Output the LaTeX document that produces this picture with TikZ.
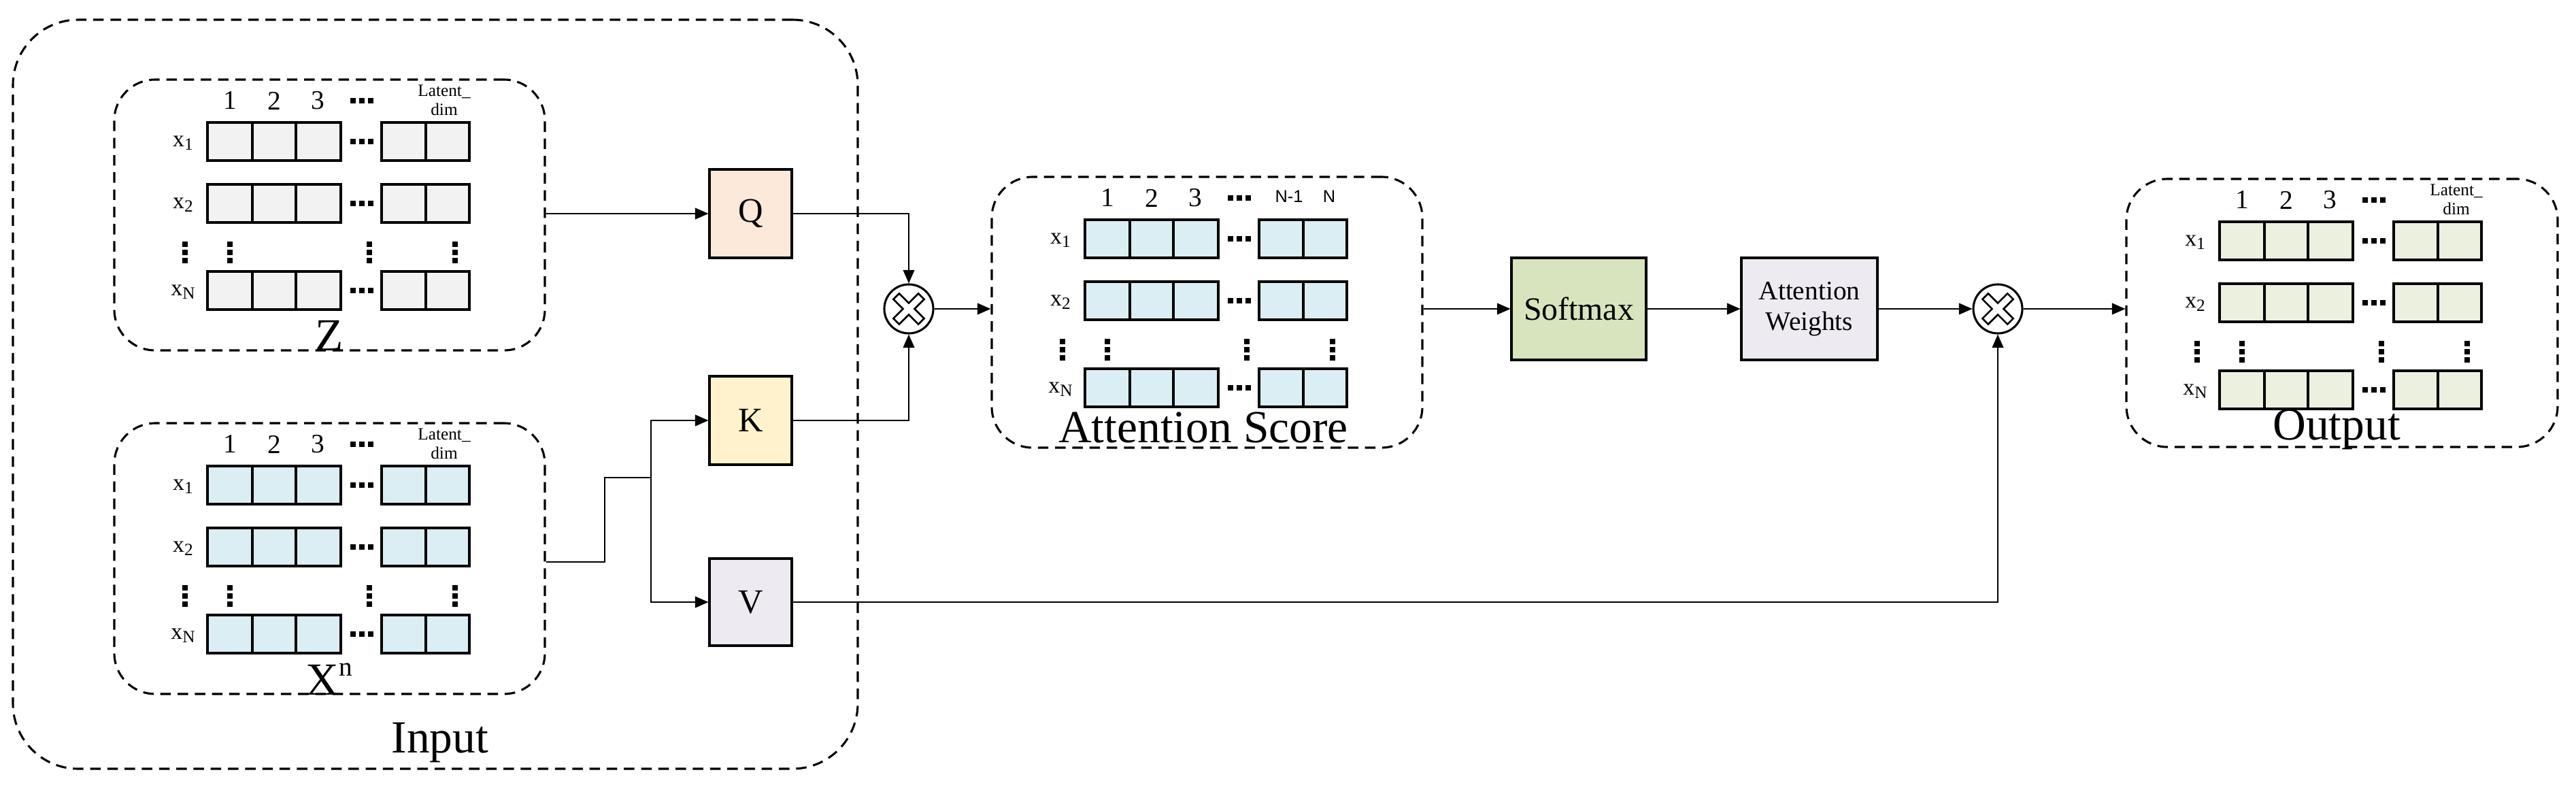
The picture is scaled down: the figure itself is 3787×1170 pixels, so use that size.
\documentclass[tikz,border=0pt]{standalone}
\usepackage{fontspec}
\setmainfont{Liberation Serif}
\newfontfamily\sansf{Liberation Sans}
\usetikzlibrary{fit,arrows.meta}
\definecolor{cgrey}{HTML}{F2F2F2}
\definecolor{cblue}{HTML}{DAEEF3}
\definecolor{cgreen}{HTML}{EBF1DE}
\definecolor{cq}{HTML}{FDE9D9}
\definecolor{ck}{HTML}{FFF2CC}
\definecolor{cv}{HTML}{EEEAF2}
\definecolor{csm}{HTML}{D7E4BD}
\newcommand\fs[1]{\fontsize{#1}{#1}\selectfont}
\newcommand\mysub[1]{\raisebox{-0.35ex}{\fs{9}#1}}
\tikzset{
  dbox/.style={draw, dashed, dash pattern=on 5.5pt off 3.5pt, line width=1.1pt, rounded corners=0.75cm, inner sep=0pt},
  blk/.style={draw, line width=1.1pt, inner sep=0pt},
  cell/.style={draw, line width=1.1pt},
  arr/.style={line width=0.6pt, -{Triangle[length=7pt,width=6pt]}},
  ln/.style={line width=0.6pt},
  dotsq/.style={fill=black},
  rowlab/.style={font=\fs{12}},
  collab/.style={font=\fs{14}},
  big/.style={font=\fs{24}},
  mul/.style={draw, circle, line width=1.1pt, minimum size=0.9cm, inner sep=0pt}
}
% #1 x, #2 y, #3 fill, #4 last labels
\newcommand\mymat[4]{%
\begin{scope}[shift={(#1,#2)}]
 \foreach \r in {0,91,219}{
   \foreach \c/\w in {0/66,66/64,130/66,256/65,321/64}{
     \draw[cell,fill=#3] (\c,\r) rectangle ++(\w,56);
   }
   \foreach \d in {-13,0,13}{\fill (227+\d-4,\r+24) rectangle ++(8,8);}
 }
 \node[rowlab] at (-36,30) {x\mysub{1}};
 \node[rowlab] at (-36,121) {x\mysub{2}};
 \node[rowlab] at (-36,249) {x\mysub{N}};
 \foreach \vx in {-33,33,238,364}{
   \foreach \d in {-12,0,12}{\fill (\vx-4,191+\d-4) rectangle ++(8,8);}
 }
 \node[collab] at (33,-32) {1};
 \node[collab] at (98,-32) {2};
 \node[collab] at (162,-32) {3};
 \foreach \d in {-13,0,13}{\fill (227+\d-4,-36) rectangle ++(8,8);}
 #4
\end{scope}}
\newcommand\latlab{\node[font=\fs{9}] at (348,-45) {Latent\_}; \node[font=\fs{9}] at (348,-19) {dim};}
\newcommand\nlab{\node[font=\sansf\fs{9}] at (300,-34) {N-1}; \node[font=\sansf\fs{9}] at (359,-34) {N};}
\newcommand\xmark[1]{%
 \draw[line width=0.9pt, rotate around={45:(#1)}, shift={(#1)}]
   (6,6) -- (6,26) -- (-6,26) -- (-6,6) -- (-26,6) -- (-26,-6) -- (-6,-6) -- (-6,-26) -- (6,-26) -- (6,-6) -- (26,-6) -- (26,6) -- cycle;}
\begin{document}
\begin{tikzpicture}[x=0.0125cm,y=-0.0125cm]
\useasboundingbox (0,0) rectangle (3787,1170);
% input
\coordinate (i1) at (19,29); \coordinate (i2) at (1261,1130);
\node[dbox, rounded corners=1.2cm, fit=(i1)(i2)] (In) {};
\node[big] at (647,1092) {Input};
% Z
\coordinate (z1) at (168,117); \coordinate (z2) at (801,515);
\node[dbox, fit=(z1)(z2)] (Z) {};
\mymat{305}{180}{cgrey}{\latlab}
\node[big] at (484,493) {Z};
% Xn
\coordinate (x1) at (168,622); \coordinate (x2) at (801,1020);
\node[dbox, fit=(x1)(x2)] (X) {};
\mymat{305}{685}{cblue}{\latlab}
\node[big] at (484,998) {X\raisebox{0.9ex}{\fs{14}n}};
% QKV
\coordinate (q1) at (1043,249); \coordinate (q2) at (1164,379);
\node[blk, fill=cq, fit=(q1)(q2), label={[font=\fs{18}]center:Q}] (Q) {};
\coordinate (k1) at (1043,553); \coordinate (k2) at (1164,683);
\node[blk, fill=ck, fit=(k1)(k2), label={[font=\fs{18}]center:K}] (K) {};
\coordinate (v1) at (1043,821); \coordinate (v2) at (1164,949);
\node[blk, fill=cv, fit=(v1)(v2), label={[font=\fs{18}]center:V}] (V) {};
% multiply 1
\node[mul] (m1) at (1336,454) {};
\xmark{1336,454}
% attention score
\coordinate (a1) at (1458,260); \coordinate (a2) at (2091,658);
\node[dbox, fit=(a1)(a2)] (A) {};
\mymat{1595}{323}{cblue}{\nlab}
\node[big] at (1769,628) {Attention Score};
% softmax, weights
\coordinate (s1) at (2222,379); \coordinate (s2) at (2420,529);
\node[blk, fill=csm, fit=(s1)(s2), label={[font=\fs{17}]center:Softmax}] (S) {};
\coordinate (w1) at (2560,379); \coordinate (w2) at (2760,529);
\node[blk, fill=cv, fit=(w1)(w2), label={[font=\fs{14},align=center]center:Attention\\[2pt]Weights}] (W) {};
\node[mul] (m2) at (2937,454) {};
\xmark{2937,454}
% output
\coordinate (o1) at (3126,263); \coordinate (o2) at (3760,657);
\node[dbox, fit=(o1)(o2)] (O) {};
\mymat{3263}{326}{cgreen}{\latlab}
\node[big] at (3435,631) {Output};
% connectors
\draw[arr] (Z.east |- Q.west) -- (Q.west);
\draw[arr] (Q.east) -| (m1.north);
\draw[arr] (K.east) -| (m1.south);
\draw[arr] (m1.east) -- (A.west |- m1.east);
\draw[arr] (A.east |- S.west) -- (S.west);
\draw[arr] (S.east) -- (W.west);
\draw[arr] (W.east) -- (m2.west);
\draw[arr] (m2.east) -- (O.west |- m2.east);
\coordinate (e0) at (801,826);
\coordinate (e1) at (889,826);
\coordinate (e2) at (889,702);
\coordinate (jn) at (957,702);
\draw[ln] (X.east |- e0) -- (e1) -- (e2) -- (jn);
\draw[arr] (jn) |- (K.west);
\draw[arr] (jn) |- (V.west);
\draw[arr] (V.east) -| (m2.south);
\end{tikzpicture}
\end{document}
